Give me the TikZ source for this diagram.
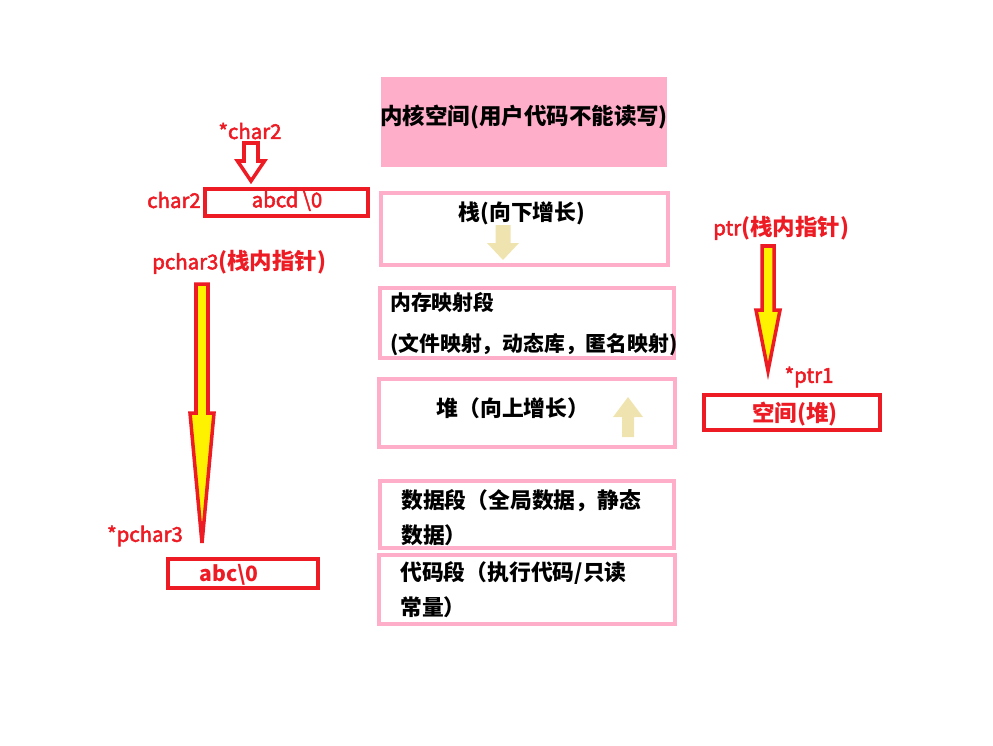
\documentclass[tikz,border=0pt]{standalone}
\usepackage{fontspec}
\setmainfont{Noto Sans CJK SC}
\newfontfamily\redfont{Noto Sans CJK SC}[FakeBold=2.5]
\usetikzlibrary{calc}
\definecolor{mypink}{HTML}{FFAEC9}
\definecolor{myred}{HTML}{ED1C24}
\definecolor{mybeige}{HTML}{EFE4B0}
\definecolor{myyellow}{HTML}{FFF200}
\tikzset{
  segbox/.style={draw=mypink, line width=2.8pt, inner sep=0pt},
  segtxt/.style={font=\fontsize{15.5}{25}\selectfont\bfseries, align=left, inner sep=0pt},
  redbox/.style={draw=myred, line width=2.8pt, inner sep=0pt},
  redtxt/.style={text=myred, font=\fontsize{15}{18}\selectfont\bfseries, inner sep=0pt},
  redlab/.style={text=myred, font=\fontsize{14.5}{17}\selectfont\redfont, inner sep=0pt},
  growarr/.style={fill=mybeige},
  ptrarr/.style={draw=myred, fill=myyellow, line width=2.5pt, line join=miter},
  hollowarr/.style={draw=myred, fill=white, line width=2.5pt, line join=miter},
}
\newcommand{\boldpart}[1]{{\normalfont\fontsize{16}{19}\selectfont\bfseries #1}}

\begin{document}
\begin{tikzpicture}[x=0.025cm, y=-0.025cm]
  \useasboundingbox (0,0) rectangle (993,745);

  % memory layout
  \node[fill=mypink, minimum width=7.15cm, minimum height=2.25cm, inner sep=0pt] (kernel) at (524,122) {};
  \node[font=\fontsize{16}{19}\selectfont\bfseries, inner sep=0pt] (kerneltxt) at (524,117) {内核空间(用户代码不能读写)};
  \node[segbox, minimum width=7.175cm, minimum height=1.8cm] (stack) at (524.5,229) {};
  \node[segbox, minimum width=7.35cm, minimum height=1.75cm] (mmap) at (527,323) {};
  \node[segbox, minimum width=7.4cm, minimum height=1.7cm] (heap) at (527,413) {};
  \node[segbox, minimum width=7.35cm, minimum height=1.675cm] (data) at (527,514.5) {};
  \node[segbox, minimum width=7.4cm, minimum height=1.725cm] (code) at (527,589.5) {};

  \node[segtxt] (stacktxt) at (522,213) {栈(向下增长)};
  \node[segtxt, anchor=west, font=\fontsize{14.8}{25}\selectfont\bfseries] (mmaptxt) at (390,324) {内存映射段\\[4pt](文件映射，动态库，匿名映射)};
  \node[segtxt] (heaptxt) at (513,408) {堆（向上增长）};
  \node[segtxt, anchor=west] (datatxt) at (401,517.5) {数据段（全局数据，静态\\数据）};
  \node[segtxt, anchor=west] (codetxt) at (400,590) {代码段（执行代码/只读\\常量）};

  % growth arrows
  \coordinate (sdown) at (503,225);
  \coordinate (sdownto) at (503,260);
  \fill[growarr] ($(sdown)+(-7.5,0)$) -- ($(sdown)+(7.5,0)$) -- ($(sdownto)+(7.5,-17)$)
    -- ($(sdownto)+(16,-17)$) -- (sdownto) -- ($(sdownto)+(-16,-17)$) -- ($(sdownto)+(-7.5,-17)$) -- cycle;
  \coordinate (hup) at (628,437);
  \coordinate (hupto) at (628,397);
  \fill[growarr] ($(hup)+(-6,0)$) -- ($(hup)+(6,0)$) -- ($(hupto)+(6,20)$)
    -- ($(hupto)+(15,20)$) -- (hupto) -- ($(hupto)+(-15,20)$) -- ($(hupto)+(-6,20)$) -- cycle;

  % char2
  \node[redlab] (starchar2) at (250,131) {*char2};
  \node[redbox, minimum width=4.075cm, minimum height=0.675cm] (char2box) at (286.5,202.5) {};
  \node[redlab] (char2boxtxt) at (287,201) {abcd \textbackslash 0};
  \node[redlab, anchor=east] (char2) at (201,200) {char2};
  \coordinate (c2from) at (251,143);
  \coordinate (c2to) at (251,181);
  \draw[hollowarr] ($(c2from)+(-7,0)$) -- ($(c2from)+(7,0)$) -- ($(c2to)+(7,-20)$)
    -- ($(c2to)+(13.5,-20)$) -- (c2to) -- ($(c2to)+(-13.5,-20)$) -- ($(c2to)+(-7,-20)$) -- cycle;

  % pchar3
  \node[redlab, anchor=west] (pchar3) at (152,262) {pchar3\boldpart{(栈内指针)}};
  \node[redlab] (starpchar3) at (145,536) {*pchar3};
  \node[redbox, minimum width=3.75cm, minimum height=0.725cm] (pchar3box) at (243,573.5) {};
  \node[redtxt] (pchar3boxtxt) at (229,575) {abc\textbackslash 0};
  \coordinate (p3from) at (202,284);
  \coordinate (p3to) at (202,543);
  \draw[ptrarr] ($(p3from)+(-6,0)$) -- ($(p3from)+(6,0)$) -- ($(p3to)+(6,-130)$)
    -- ($(p3to)+(12,-130)$) -- (p3to) -- ($(p3to)+(-12,-130)$) -- ($(p3to)+(-6,-130)$) -- cycle;

  % ptr
  \node[redlab, anchor=west] (ptr) at (713,228) {ptr\boldpart{(栈内指针)}};
  \node[redlab] (starptr1) at (809,377) {*ptr1};
  \node[redbox, minimum width=4.4cm, minimum height=0.875cm] (heapbox) at (792,412.5) {};
  \node[redtxt, font=\fontsize{16}{19}\selectfont\bfseries] (heapboxtxt) at (795,414) {空间(堆)};
  \coordinate (pfrom) at (768,246);
  \coordinate (pto) at (768,371);
  \draw[ptrarr] ($(pfrom)+(-6,0)$) -- ($(pfrom)+(6,0)$) -- ($(pto)+(6,-61)$)
    -- ($(pto)+(12,-61)$) -- (pto) -- ($(pto)+(-12,-61)$) -- ($(pto)+(-6,-61)$) -- cycle;
\end{tikzpicture}
\end{document}
